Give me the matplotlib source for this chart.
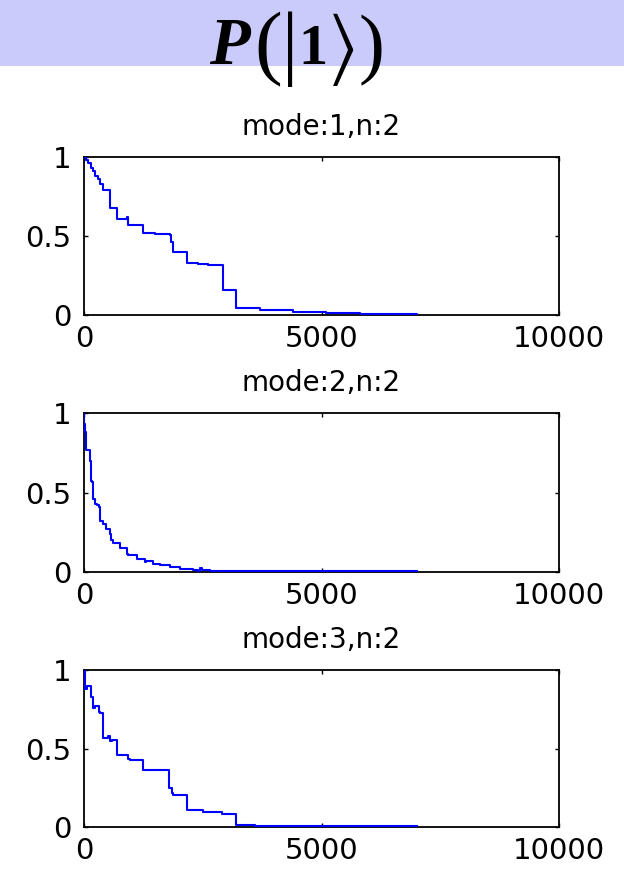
import matplotlib
matplotlib.use("Agg")
import matplotlib.pyplot as plt
from matplotlib.patches import Rectangle

plt.rcParams["mathtext.fontset"] = "stix"

# step curves: x = iteration where a new level starts
mode1_x = [0, 40, 90, 140, 190, 240, 290, 340, 400, 547, 688, 898, 933, 1235, 1500, 1810, 1840,
           1880, 2160, 2400, 2450, 2600, 2930, 3210, 3700, 4400, 5100, 5800, 6400, 7000]
mode1_y = [1.0, 0.98, 0.96, 0.93, 0.91, 0.88, 0.86, 0.83, 0.79, 0.68, 0.61, 0.62, 0.57, 0.52, 0.515,
           0.505, 0.46, 0.40, 0.33, 0.325, 0.32, 0.315, 0.16, 0.047, 0.032, 0.017, 0.010, 0.006, 0.004, 0.003]

mode2_x = [0, 10, 21, 42, 126, 140, 150, 161, 196, 231, 280, 323, 337, 400, 470, 547, 560, 618, 758,
           898, 930, 1122, 1284, 1300, 1460, 1600, 1810, 2020, 2300, 2400, 2440, 2480, 2650, 3000,
           3400, 4000, 7000]
mode2_y = [1.0, 0.93, 0.88, 0.77, 0.70, 0.62, 0.57, 0.565, 0.46, 0.43, 0.42, 0.41, 0.32, 0.30, 0.27,
           0.24, 0.20, 0.18, 0.15, 0.115, 0.105, 0.08, 0.063, 0.068, 0.053, 0.042, 0.032, 0.021, 0.011,
           0.008, 0.025, 0.010, 0.008, 0.006, 0.005, 0.004, 0.004]

mode3_x = [0, 21, 56, 140, 161, 196, 231, 323, 337, 393, 512, 547, 583, 702, 933, 960, 1235, 1796,
           1845, 1880, 2160, 2500, 2900, 3200, 3600, 4400, 7000]
mode3_y = [1.0, 0.88, 0.895, 0.83, 0.826, 0.756, 0.77, 0.735, 0.725, 0.566, 0.58, 0.545, 0.555,
           0.46, 0.43, 0.425, 0.36, 0.25, 0.216, 0.205, 0.11, 0.095, 0.08, 0.015, 0.008, 0.004, 0.004]

titles = ["mode:1,n:2", "mode:2,n:2", "mode:3,n:2"]
xticks = [0, 5000, 10000]
yticks = [0, 0.5, 1]
ytick_labels = ["0", "0.5", "1"]

W, H = 624, 871
fig = plt.figure(figsize=(W / 100, H / 100), dpi=100)

# lavender header band with the big P(|1>) label, set piece by piece
fig.patches.append(Rectangle((0, 1 - 66 / H), 1, 66 / H, transform=fig.transFigure,
                             facecolor="#cbcbfb", edgecolor="none", zorder=0))
serif = "Liberation Serif"
fig.text(209 / W, 1 - 64 / H, "P", fontsize=48, fontfamily=serif, fontweight="bold",
         fontstyle="italic", ha="left", va="baseline")
fig.text(254 / W, 1 - 49 / H, "(|", fontsize=60, fontfamily=serif, ha="left", va="center")
fig.text(313 / W, 1 - 64 / H, "1", fontsize=42, fontfamily=serif, fontweight="bold",
         ha="center", va="baseline")
fig.text(327 / W, 1 - 49 / H, r"$\rangle$)", fontsize=56, fontfamily=serif,
         ha="left", va="center")

series = [(mode1_x, mode1_y), (mode2_x, mode2_y), (mode3_x, mode3_y)]
tops = [157, 413, 670]
bottoms = [315, 572, 827]

for (xs, ys), title, top, bot in zip(series, titles, tops, bottoms):
    ax = fig.add_axes([84 / W, 1 - bot / H, 475 / W, (bot - top) / H])
    ax.plot(xs, ys, color="#0000ff", lw=1.5, drawstyle="steps-post", zorder=3)
    ax.set_xlim(0, 10000)
    ax.set_ylim(0, 1)
    ax.set_xticks(xticks)
    ax.set_xticklabels([str(t) for t in xticks])
    ax.set_yticks(yticks)
    ax.set_yticklabels(ytick_labels)
    ax.tick_params(direction="in", top=True, right=True, length=3, width=1,
                   labelsize=21, pad=9)
    ax.tick_params(axis="x", pad=7)
    for s in ax.spines.values():
        s.set_linewidth(1.3)
    ax.set_title(title, fontsize=20, pad=16)

fig.savefig("out.png", dpi=100)
